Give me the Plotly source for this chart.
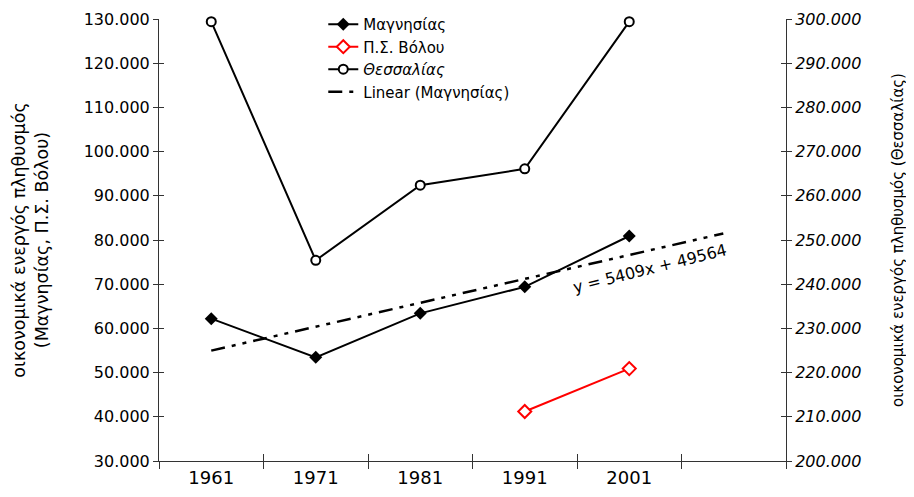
import plotly.graph_objects as go

years = ["1961", "1971", "1981", "1991", "2001"]
x_idx = [1, 2, 3, 4, 5]
magnesia = [62200, 53450, 63400, 69400, 80900]
volos_x = [4, 5]
volos = [41200, 50900]
thessaly = [299400, 245400, 262400, 266100, 299400]
trend_slope = 5409
trend_intercept = 49564
trend_x = [1, 5.9]
trend_y = [trend_slope * v + trend_intercept for v in trend_x]

FONT = "DejaVu Sans"
AX = "#333333"

fig = go.Figure()
fig.add_trace(go.Scatter(x=x_idx, y=magnesia, name="Μαγνησίας", mode="lines+markers",
                         line=dict(color="black", width=2), cliponaxis=False,
                         marker=dict(symbol="diamond", size=10, color="black")))
fig.add_trace(go.Scatter(x=volos_x, y=volos, name="Π.Σ. Βόλου", mode="lines+markers",
                         line=dict(color="#ff0000", width=2), cliponaxis=False,
                         marker=dict(symbol="diamond", size=10, color="white",
                                     line=dict(color="#ff0000", width=2))))
fig.add_trace(go.Scatter(x=x_idx, y=thessaly, name="<i>Θεσσαλίας</i>", mode="lines+markers",
                         yaxis="y2", cliponaxis=False,
                         line=dict(color="black", width=2),
                         marker=dict(symbol="circle", size=9, color="white",
                                     line=dict(color="black", width=2))))
fig.add_trace(go.Scatter(x=trend_x, y=trend_y, name="Linear (Μαγνησίας)", mode="lines",
                         line=dict(color="black", width=2.5, dash="14px,7px,4px,7px,4px,7px")))

bounds = [0.5, 1.5, 2.5, 3.5, 4.5, 5.5, 6.5]
xr = [0.5, 6.5]

fig.update_layout(
    width=906, height=489,
    margin=dict(l=151, r=128, t=11, b=36, autoexpand=False),
    paper_bgcolor="white", plot_bgcolor="white",
    separators=",.",
    font=dict(family=FONT, size=16, color="black"),
    showlegend=True,
    legend=dict(x=0.262, y=1.025, xanchor="left", yanchor="top",
                bgcolor="rgba(0,0,0,0)", font=dict(size=15), tracegroupgap=0),
    xaxis=dict(range=xr, tickmode="array", tickvals=x_idx, ticktext=years, ticks="",
               tickfont=dict(size=18), showgrid=False, zeroline=False, automargin=False,
               showline=True, linecolor=AX, linewidth=1,
               minor=dict(tickmode="array", tickvals=bounds, ticks="outside",
                          ticklen=7, tickcolor=AX, tickwidth=1, showgrid=False)),
    xaxis2=dict(range=xr, overlaying="x", anchor="y", side="bottom", automargin=False,
                tickmode="array", tickvals=bounds, ticks="inside", ticklen=7,
                tickcolor=AX, showticklabels=False, showgrid=False, zeroline=False,
                showline=False),
    yaxis=dict(range=[30000, 130000], dtick=10000, tickformat=",", ticks="outside",
               ticklen=5, tickcolor=AX, showgrid=False, zeroline=False, automargin=False,
               showline=True, linecolor=AX, linewidth=1,
               tickfont=dict(size=16),
               title=dict(text="οικονομικά ενεργός πληθυσμός<br>(Μαγνησίας, Π.Σ. Βόλου)",
                          font=dict(size=17.5), standoff=30)),
    yaxis2=dict(range=[200000, 300000], dtick=10000, tickformat=",", ticks="outside",
                ticklen=5, tickcolor=AX, overlaying="y", side="right", anchor="x",
                showgrid=False, zeroline=False, showline=True, linecolor=AX, linewidth=1,
                automargin=False,
                tickfont=dict(size=16, style="italic"),
                title=dict(text="οικονομικά ενεργός πληθυσμός (Θεσσαλίας)",
                           font=dict(size=15), standoff=32)),
    yaxis3=dict(range=[30000, 130000], dtick=10000, overlaying="y", side="left",
                anchor="x", ticks="inside", ticklen=5, tickcolor=AX, automargin=False,
                showticklabels=False, showgrid=False, zeroline=False, showline=False),
    yaxis4=dict(range=[200000, 300000], dtick=10000, overlaying="y", side="right",
                anchor="x", ticks="inside", ticklen=5, tickcolor=AX, automargin=False,
                showticklabels=False, showgrid=False, zeroline=False, showline=False),
    annotations=[dict(x=5.2, y=73500, xref="x", yref="y", text="y = 5409x + 49564",
                      showarrow=False, textangle=-14, font=dict(size=16, family=FONT))],
)

fig.add_trace(go.Scatter(x=[None], y=[None], xaxis="x2", yaxis="y3", showlegend=False,
                         hoverinfo="skip"))
fig.add_trace(go.Scatter(x=[None], y=[None], xaxis="x2", yaxis="y4", showlegend=False,
                         hoverinfo="skip"))

fig.write_html("out.html")
